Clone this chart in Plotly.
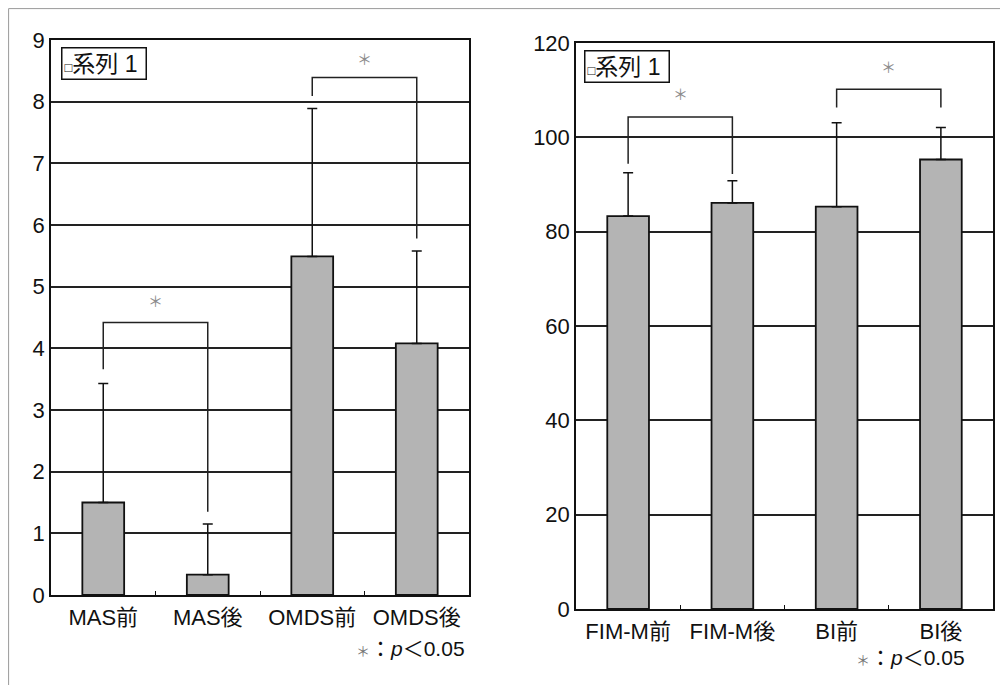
import plotly.graph_objects as go

# ---------------- data ----------------
left_cats = ["MAS前", "MAS後", "OMDS前", "OMDS後"]
left_vals = [1.50, 0.33, 5.49, 4.08]
left_err_top = [3.43, 1.15, 7.89, 5.58]

right_cats = ["FIM-M前", "FIM-M後", "BI前", "BI後"]
right_vals = [83.3, 86.1, 85.3, 95.3]
right_err_top = [92.5, 90.8, 103.1, 102.1]

# significance brackets: (left cat, right cat, left leg bottom, top, right leg bottom, star y)
left_brackets = [
    ("MAS前", "MAS後", 3.66, 4.42, 1.35, 4.76),
    ("OMDS前", "OMDS後", 8.09, 8.39, 5.78, 8.68),
]
right_brackets = [
    ("FIM-M前", "FIM-M後", 94.4, 104.3, 92.2, 109.0),
    ("BI前", "BI後", 106.3, 110.2, 106.3, 114.9),
]
left_yticks = list(range(0, 10))
right_yticks = list(range(0, 121, 20))

FONT = "Liberation Sans, Arial, Noto Sans CJK JP, sans-serif"
BAR_FILL = "#b4b4b4"
W, H, OFF = 1008, 685, 8  # page body margin offset


def px(x):
    return (x - OFF) / W


def py(y):
    return 1 - (y - OFF) / H


fig = go.Figure()


def add_panel(cats, vals, tops, brackets, xa, ya):
    fig.add_trace(go.Bar(
        x=cats, y=vals, xaxis=xa, yaxis=ya, width=0.4,
        marker=dict(color=BAR_FILL, line=dict(color="#111", width=1.8)),
        error_y=dict(type="data", symmetric=False,
                     array=[t - v for t, v in zip(tops, vals)],
                     arrayminus=[0] * len(vals),
                     color="#111", thickness=1.5, width=5),
        showlegend=False, hoverinfo="skip"))
    for (c1, c2, yl, yt, yr, ys) in brackets:
        fig.add_trace(go.Scatter(
            x=[c1, c1, c2, c2], y=[yl, yt, yt, yr], xaxis=xa, yaxis=ya,
            mode="lines", line=dict(color="#222", width=1.5),
            showlegend=False, hoverinfo="skip", cliponaxis=False))


add_panel(left_cats, left_vals, left_err_top, left_brackets, "x", "y")
add_panel(right_cats, right_vals, right_err_top, right_brackets, "x2", "y2")

annotations = []
for (c1, c2, yl, yt, yr, ys), xr, yr_ in [(b, "x", "y") for b in left_brackets] + [(b, "x2", "y2") for b in right_brackets]:
    idx_cats = left_cats if xr == "x" else right_cats
    i1, i2 = idx_cats.index(c1), idx_cats.index(c2)
    annotations.append(dict(x=(i1 + i2) / 2, y=ys, xref=xr, yref=yr_, text="＊",
                            showarrow=False, font=dict(size=15, color="#8c8c8c", family=FONT)))

# legend boxes
for lx, ly in [(61, 64), (584, 66)]:
    annotations.append(dict(x=px(lx), y=py(ly), xref="paper", yref="paper", xanchor="left", yanchor="middle",
                            text="<span style='font-size:13px'>□</span>系列 1 ", showarrow=False,
                            font=dict(size=23, color="#111", family=FONT),
                            bordercolor="#111", borderwidth=1.5, borderpad=2, bgcolor="white"))
# p-value notes
for nx, ny in [(467, 648), (967, 657)]:
    annotations.append(dict(x=px(nx), y=py(ny), xref="paper", yref="paper", xanchor="right", yanchor="middle",
                            text="<span style='font-size:14px;color:#777'>＊</span>：<i>p</i>＜0.05", showarrow=False,
                            font=dict(size=21, color="#111", family=FONT)))

axis_common = dict(showline=True, mirror=True, linecolor="#111", linewidth=1.5, automargin=False,
                   tickfont=dict(size=22, color="#111", family=FONT))

fig.update_layout(
    width=W, height=H,
    margin=dict(l=0, r=0, t=0, b=0, autoexpand=False),
    paper_bgcolor="white", plot_bgcolor="white",
    xaxis=dict(domain=[px(51), px(469)], anchor="y", type="category",
               categoryorder="array", categoryarray=left_cats,
               ticks="inside", tickson="boundaries", ticklen=4, tickcolor="#111",
               showgrid=False, ticklabelstandoff=2, **axis_common),
    yaxis=dict(domain=[py(595), py(40)], anchor="x", range=[0, 9],
               tickvals=left_yticks, showgrid=True, gridcolor="#222", gridwidth=1.6,
               zeroline=False, ticks="", **axis_common),
    xaxis2=dict(domain=[px(576), px(993)], anchor="y2", type="category",
                categoryorder="array", categoryarray=right_cats,
                ticks="inside", tickson="boundaries", ticklen=4, tickcolor="#111",
                showgrid=False, ticklabelstandoff=2, **axis_common),
    yaxis2=dict(domain=[py(609), py(43)], anchor="x2", range=[0, 120],
                tickvals=right_yticks, showgrid=True, gridcolor="#222", gridwidth=1.6,
                zeroline=False, ticks="", **axis_common),
    annotations=annotations,
    shapes=[dict(type="rect", xref="paper", yref="paper",
                 x0=0.6 / W, x1=1.02, y0=-0.02, y1=1 - 0.6 / H,
                 line=dict(color="#9a9a9a", width=1))],
)

fig.write_html("out.html")
